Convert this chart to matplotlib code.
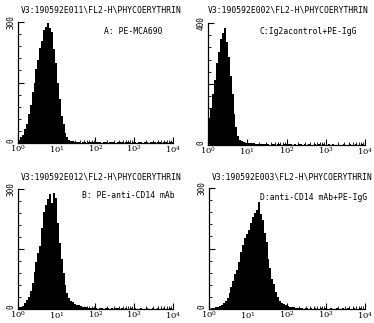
import numpy as np
import matplotlib
matplotlib.use('Agg')
import matplotlib.pyplot as plt

plt.rcParams['mathtext.fontset'] = 'dejavuserif'

# canales logaritmicos de 0.05 decadas (10^0 .. 10^4)
paso = 0.05
n_canales = 80

cuentas_a = [8, 14, 21, 35, 48, 72, 93, 127, 148, 183, 205, 236, 254, 281, 288, 298,
             284, 274, 232, 198, 148, 108, 68, 47, 26, 15, 8, 5, 4, 3,
             2, 3, 1, 2, 3, 1, 2, 2, 3, 1, 2, 3, 2, 1, 2, 3, 1, 2, 2, 3,
             1, 2, 3, 2, 1, 2, 2, 3, 1, 2, 3, 1, 2, 2, 1, 3, 2, 1, 2, 2,
             3, 1, 2, 2, 1, 2, 3, 1, 2, 2]
# panel C (Ig2a control + PE-IgG)
cuentas_c = [88, 122, 168, 212, 268, 306, 348, 366, 382, 338, 288, 226, 168, 102, 58, 30,
             17, 12, 9, 8, 7, 6, 5, 5, 4, 4, 3, 3, 2, 3, 2, 1, 2, 3, 1, 2,
             2, 1, 2, 3, 1, 2, 2, 1, 2, 1, 2, 2, 1, 2, 1, 2, 1, 1, 2, 1,
             2, 1, 2, 1, 1, 2, 1, 2, 1, 1, 2, 1, 1, 2, 1, 1, 2, 1, 1, 2,
             1, 1, 2, 1]
# panel B (PE-anti-CD14 mAb)
cuentas_b = [4, 6, 8, 14, 22, 31, 46, 64, 93, 117, 139, 158, 203, 243, 259, 274,
             287, 266, 291, 278, 214, 166, 124, 91, 59, 41, 28, 21, 17, 13,
             11, 9, 7, 6, 5, 4, 3, 3, 2, 3, 2, 1, 2, 2, 1, 2, 3, 1, 2, 1,
             2, 2, 1, 2, 1, 2, 1, 1, 2, 1, 2, 1, 1, 2, 1, 1, 2, 1, 1, 2,
             1, 1, 2, 1, 1, 2, 1, 1, 2, 1]
# panel D (anti-CD14 mAb + PE-IgG)
cuentas_d = [1, 2, 3, 5, 6, 8, 11, 15, 20, 28, 40, 55, 70, 86, 97, 116,
             141, 158, 177, 186, 197, 213, 229, 238, 245, 266, 236, 221, 189, 166,
             124, 101, 74, 61, 42, 29, 20, 14, 12, 9, 7, 6, 5, 4, 3, 2,
             3, 2, 1, 2, 2, 1, 2, 1, 2, 1, 1, 2, 1, 2, 1, 1, 2, 1, 1, 2,
             1, 1, 2, 1, 1, 2, 1, 1, 2, 1, 1, 2, 1, 1]

titulos = ['V3:190592E011\\FL2-H\\PHYCOERYTHRIN',
           'V3:190592E002\\FL2-H\\PHYCOERYTHRIN',
           'V3:190592E012\\FL2-H\\PHYCOERYTHRIN',
           'V3:190592E003\\FL2-H\\PHYCOERYTHRIN']
etiquetas = ['A: PE-MCA690', 'C:Ig2acontrol+PE-IgG',
             'B: PE-anti-CD14 mAb', 'D:anti-CD14 mAb+PE-IgG']
y_max = [300, 400, 300, 300]
datos = [cuentas_a, cuentas_c, cuentas_b, cuentas_d]

W, H = 374, 323
# rectangulos de los ejes en pixeles: izquierda, derecha, arriba, abajo
cajas = [(18, 173, 22, 143), (208, 365, 23, 145),
         (18, 173, 189, 309), (209, 365, 188, 309)]
# posiciones del titulo (centro x, y) y de la etiqueta (x izq, y)
pos_titulo = [(101, 10), (288, 10), (101, 177), (292, 177)]
pos_etiqueta = [(104, 32), (260, 32), (82, 195), (260, 198)]

fig = plt.figure(figsize=(W / 100, H / 100), dpi=100)
mono = 'DejaVu Sans Mono'
bordes = 10 ** (np.arange(n_canales + 1) * paso)

for k in range(4):
    l, r, t, b = cajas[k]
    ax = fig.add_axes([l / W, 1 - b / H, (r - l) / W, (b - t) / H])
    ax.stairs(datos[k], bordes, fill=True, color='black', linewidth=0)
    ax.set_xscale('log')
    ax.set_xlim(1, 1e4)
    ax.set_ylim(0, y_max[k])
    for s in ['top', 'right']:
        ax.spines[s].set_visible(False)
    for s in ['left', 'bottom']:
        ax.spines[s].set_linewidth(0.9)
    ax.set_xticks([1, 10, 100, 1000, 10000])
    ax.set_xticklabels(['$10^{0}$', '$10^{1}$', '$10^{2}$', '$10^{3}$', '$10^{4}$'])
    ax.set_yticks([0, y_max[k] / 2, y_max[k]])
    ylab = ax.set_yticklabels(['0', '', str(y_max[k])], rotation=90,
                              va='center', family=mono)
    ylab[0].set_va('bottom')  # el "0" queda justo encima del 10^0
    ax.set_yticks(np.arange(0, y_max[k] + 1, y_max[k] / 10), minor=True)
    ax.tick_params(axis='both', which='major', direction='in', length=4,
                   width=0.8, labelsize=6, pad=0.5)
    ax.tick_params(axis='both', which='minor', direction='in', length=2,
                   width=0.6)
    ax.tick_params(axis='y', labelsize=5.5, pad=2)
    fig.text(pos_titulo[k][0] / W, 1 - pos_titulo[k][1] / H, titulos[k],
             family=mono, fontsize=5.8, ha='center', va='center')
    fig.text(pos_etiqueta[k][0] / W, 1 - pos_etiqueta[k][1] / H, etiquetas[k],
             family=mono, fontsize=5.8, ha='left', va='center')

fig.savefig('out.png', dpi=100)
